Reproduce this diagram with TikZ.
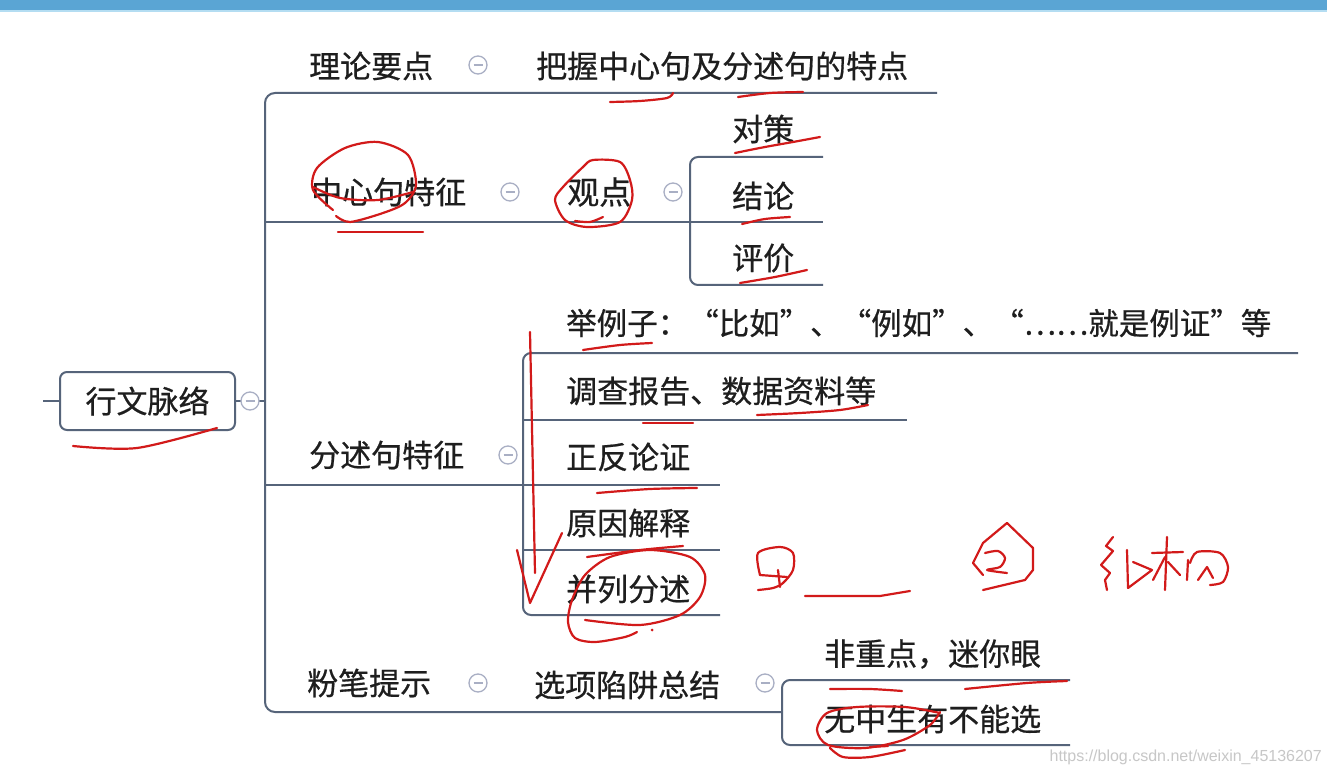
\documentclass[tikz,border=0pt]{standalone}
\usepackage{fontspec}
\newfontfamily\cjk[FakeBold=0.6]{Noto Sans CJK SC}
\newfontfamily\wmfont{Liberation Sans}
\definecolor{barc}{HTML}{5AA5D4}
\definecolor{barl}{HTML}{B4DDF2}
\definecolor{lc}{HTML}{56647A}
\definecolor{cc}{HTML}{A9AFC4}
\definecolor{tc}{HTML}{1E1E1E}
\definecolor{rc}{HTML}{D21A1A}
\begin{document}
\begin{tikzpicture}[x=1pt,y=-1pt,
  conn/.style={draw=lc,line width=2pt},
  txt/.style={anchor=west,inner sep=0pt,text=tc,font=\cjk\fontsize{31}{31}\selectfont},
  colbtn/.style={circle,draw=cc,line width=1.3pt,fill=white,minimum size=18pt,inner sep=0pt,
    path picture={\draw[cc,line width=1.3pt] ([xshift=-4.5pt]path picture bounding box.center) -- ([xshift=4.5pt]path picture bounding box.center);}},
  ink/.style={draw=rc,line width=2.2pt,line cap=round,line join=round},
  rootbox/.style={draw=lc,line width=2pt,rounded corners=7pt,fill=white,minimum width=175pt,minimum height=58pt,inner sep=0pt,text=tc,font=\cjk\fontsize{31}{31}\selectfont}
]
\useasboundingbox (0,0) rectangle (1327,775);
\fill[white] (0,0) rectangle (1327,775);
\fill[barc] (0,0) rectangle (1327,10);
\fill[barl] (0,10) rectangle (1327,12);

% ---------- coordinates ----------
\coordinate (stub) at (43,401);
\coordinate (trunk) at (265,401);
\coordinate (t1end) at (937,93);
\coordinate (t4end) at (782,712);
\coordinate (t2a) at (265,222);
\coordinate (t2b) at (823,222);
\coordinate (t3a) at (265,485);
\coordinate (t3b) at (523,485);
\coordinate (g1top) at (823,157);
\coordinate (g1bot) at (823,285);
\coordinate (gxA) at (1298,353);
\coordinate (gxB) at (720,615);
\coordinate (gxC1) at (523,420);
\coordinate (gxC2) at (907,420);
\coordinate (gxD1) at (523,485);
\coordinate (gxD2) at (720,485);
\coordinate (gxE1) at (523,550);
\coordinate (gxE2) at (720,550);
\coordinate (gyA) at (1070,680);
\coordinate (gyB) at (1070,745);

% ---------- root ----------
\node[rootbox] (root) at (147.5,401) {行文脉络};
\draw[conn] (stub) -- (root.west);
\draw[conn] (root.east) -- (trunk);

% ---------- main trunk ----------
\draw[conn,rounded corners=10pt] (t1end) -| (trunk) |- (t4end);
\draw[conn] (t2a) -- (t2b);
\draw[conn] (t3a) -- (t3b);
\draw[conn,rounded corners=8pt] (g1top) -| (690,285) -- (g1bot);
\draw[conn,rounded corners=8pt] (gxA) -| (523,615) -- (gxB);
\draw[conn] (gxC1) -- (gxC2);
\draw[conn] (gxD1) -- (gxD2);
\draw[conn] (gxE1) -- (gxE2);
\draw[conn,rounded corners=8pt] (gyA) -| (782,745) -- (gyB);

% ---------- collapse buttons ----------
\node[colbtn] (c0) at (250,401) {};
\node[colbtn] (c1) at (478,65) {};
\node[colbtn] (c2) at (510,192) {};
\node[colbtn] (c2b) at (673,192) {};
\node[colbtn] (c3) at (508,455) {};
\node[colbtn] (c4) at (478,683) {};
\node[colbtn] (c4b) at (765,683) {};

% ---------- texts ----------
\node[txt] (n1) at (309,66) {理论要点};
\node[txt] (n1a) at (536,66) {把握中心句及分述句的特点};
\node[txt,font=\cjk\fontsize{32}{32}\selectfont] (n2a) at (567,192) {观点};
\node[txt] (n2) at (311,192) {中心句特征};
\node[txt] (n2a1) at (732,129) {对策};
\node[txt] (n2a2) at (732,196) {结论};
\node[txt] (n2a3) at (732,258) {评价};
\node[txt] (n3) at (309,455) {分述句特征};
\node[txt,font=\cjk\fontsize{30.5}{30.5}\selectfont] (n3a) at (566,323) {举例子：“比如”、“例如”、“……就是例证”等};
\node[txt] (n3b) at (566,391) {调查报告、数据资料等};
\node[txt] (n3c) at (566,457) {正反论证};
\node[txt] (n3d) at (566,523) {原因解释};
\node[txt] (n3e) at (566,589) {并列分述};
\node[txt] (n4) at (307,683) {粉笔提示};
\node[txt] (n4a) at (534,685) {选项陷阱总结};
\node[txt] (n4a1) at (824,654) {非重点，迷你眼};
\node[txt] (n4a2) at (824,719) {无中生有不能选};

\node[anchor=east,inner sep=0pt,text=black!22,font=\wmfont\fontsize{16}{16}\selectfont] (wm) at (1322,757) {https://blog.csdn.net/weixin\_45136207};

% ---------- red handwriting ----------
\draw[ink] plot[smooth] coordinates {(73,446) (137,448) (217,428)};
\draw[ink] plot[smooth] coordinates {(610,102) (640,101) (667,98) (673,93)};
\draw[ink] plot[smooth] coordinates {(738,97) (770,93) (803,92)};
\draw[ink] plot[smooth] coordinates {(333,210) (313,190) (317,168) (345,148) (378,142) (408,155) (416,185) (405,203) (383,213) (350,222) (336,216)};
\draw[ink] plot[smooth] coordinates {(313,187) (340,198) (378,200) (413,192)};
\draw[ink] (338,232) -- (423,232);
\draw[ink] plot[smooth cycle] coordinates {(593,160) (620,162) (630,180) (632,200) (620,222) (587,227) (565,220) (555,200) (563,187) (583,167)};
\draw[ink] plot[smooth] coordinates {(575,221) (590,222) (603,217)};
\draw[ink] plot[smooth] coordinates {(735,153) (765,147) (793,142) (820,137)};
\draw[ink] plot[smooth] coordinates {(742,224) (765,219) (790,217)};
\draw[ink] plot[smooth] coordinates {(740,283) (775,277) (807,270)};
\draw[ink] plot[smooth] coordinates {(583,350) (620,345) (652,343)};
\draw[ink] (643,423) -- (693,423);
\draw[ink] plot[smooth] coordinates {(757,415) (800,413) (840,410) (868,405)};
\draw[ink] (530,332) -- (535,573);
\draw[ink] (517,550) -- (530,603) -- (562,533);
\draw[ink] plot[smooth] coordinates {(597,493) (650,489) (697,488)};
\draw[ink] plot[smooth] coordinates {(587,557) (640,550) (683,546)};
\draw[ink] plot[smooth] coordinates {(585,620) (640,625) (680,615) (700,597) (705,575) (690,557) (650,550) (610,557) (585,575) (572,600) (568,622) (575,638) (595,642) (625,637) (637,632)};
\fill[rc] (652,630) circle (1.5pt);
% circled 1
\draw[ink] plot[smooth] coordinates {(760,575) (758,553) (780,547) (793,553) (793,570) (783,583) (773,588) (758,590)};
\draw[ink] (760,575) -- (787,577);
\draw[ink] (778,570) -- (780,587);
\draw[ink] (805,596) -- (880,596) -- (910,591);
% circled 2
\draw[ink] plot coordinates {(983,590) (1025,580) (1033,570) (1033,548) (1007,523) (983,543) (973,563) (983,575)};
\draw[ink] plot[smooth] coordinates {(985,553) (998,551) (1005,558) (1000,567) (987,570) (1007,573)};
% handwritten jiegou
\draw[ink] plot coordinates {(1113,537) (1106,546) (1113,551) (1101,565) (1110,573) (1105,580) (1107,590)};
\draw[ink] (1127,550) -- (1128,588) -- (1152,570) -- (1133,562);
\draw[ink] (1152,553) -- (1183,552);
\draw[ink] (1167,537) -- (1165,590);
\draw[ink] (1165,557) -- (1153,580);
\draw[ink] (1168,562) -- (1180,575);
\draw[ink] (1188,560) -- (1187,580);
\draw[ink] plot[smooth] coordinates {(1190,563) (1197,552) (1220,553) (1228,567) (1223,582) (1210,585)};
\draw[ink] (1198,580) -- (1207,567) -- (1213,578);
% bottom
\draw[ink] plot[smooth] coordinates {(830,689) (870,689) (902,691)};
\draw[ink] plot[smooth] coordinates {(965,689) (1027,683) (1067,681)};
\draw[ink] plot[smooth] coordinates {(940,713) (905,707) (857,707) (827,713) (817,730) (828,745) (865,748) (903,740) (930,725) (940,712)};
\draw[ink] plot[smooth] coordinates {(830,748) (843,757) (870,757) (905,750)};
\draw[ink] (870,747) -- (888,746);
\end{tikzpicture}
\end{document}
